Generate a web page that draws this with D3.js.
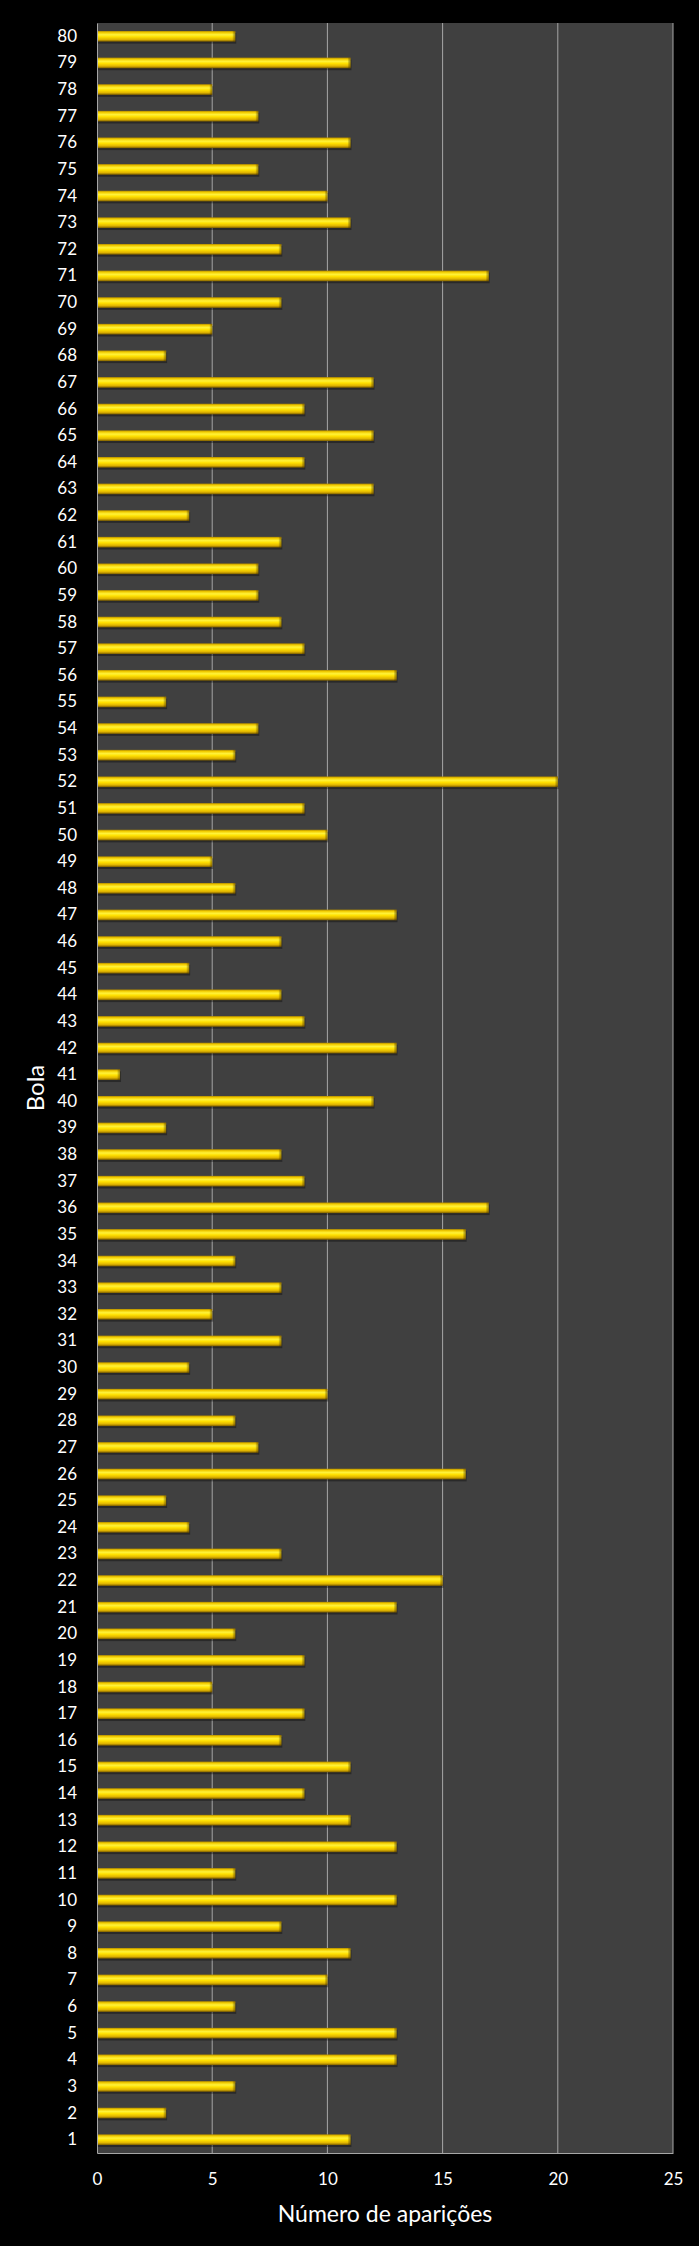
<!DOCTYPE html>
<html><head><meta charset="utf-8">
<script src="https://cdn.jsdelivr.net/npm/d3@7/dist/d3.min.js"></script>
<style>html,body{margin:0;padding:0;background:#000;}svg{display:block;}</style>
</head><body>
<script>
const bolas = d3.range(1, 81);
const aparicoes = [11,3,6,13,13,6,10,11,8,13,6,13,11,9,11,8,9,5,9,6,
  13,15,8,4,3,16,7,6,10,4,8,5,8,6,16,17,9,8,3,12,
  1,13,9,8,4,8,13,6,5,10,9,20,6,7,3,13,9,8,7,7,
  8,4,12,9,12,9,12,3,5,8,17,8,11,10,7,11,7,5,11,6];
const xTicks = [0,5,10,15,20,25];
const xTitle = "Número de aparições";
const yTitle = "Bola";

const W = 699, H = 2246;
const m = {left: 97, right: 26, top: 23, bottom: 93};
const svg = d3.select("body").append("svg").attr("width", W).attr("height", H);
svg.append("rect").attr("width", W).attr("height", H).attr("fill", "#000");

const x = d3.scaleLinear().domain([0,25]).range([m.left, W - m.right]);
const y = d3.scaleBand().domain(bolas.slice().reverse()).range([m.top, H - m.bottom]).paddingInner(0.6).paddingOuter(0.3);

const defs = svg.append("defs");
const g = defs.append("linearGradient").attr("id","bar").attr("x1",0).attr("y1",0).attr("x2",0).attr("y2",1);
[[0,"#b08a00"],[0.15,"#f2cc00"],[0.35,"#fff23a"],[0.55,"#ffe000"],[0.8,"#e0b400"],[1,"#7a5c00"]]
  .forEach(([o,c]) => g.append("stop").attr("offset",o).attr("stop-color",c));
const ge = defs.append("linearGradient").attr("id","end").attr("x1",0).attr("y1",0).attr("x2",1).attr("y2",0);
[[0,"rgba(0,0,0,0)"],[1,"rgba(90,60,0,0.55)"]].forEach(([o,c]) => ge.append("stop").attr("offset",o).attr("stop-color",c));

svg.append("rect").attr("x", x(0)).attr("y", m.top).attr("width", x(25)-x(0)).attr("height", H-m.bottom-m.top).attr("fill","#404040");

svg.append("g").selectAll("line").data(xTicks.slice(1)).join("line")
  .attr("x1", d=>x(d)).attr("x2", d=>x(d)).attr("y1", m.top).attr("y2", H-m.bottom)
  .attr("stroke", "#a6a6a6").attr("stroke-width", 1);

const data = bolas.map((b,i)=>({b, v: aparicoes[i]}));
const bars = svg.append("g");
// shadow
bars.selectAll("rect.sh").data(data).join("rect").attr("class","sh")
  .attr("x", x(0)).attr("y", d=>y(d.b)+2).attr("width", d=>x(d.v)-x(0)+1).attr("height", y.bandwidth())
  .attr("fill","rgba(0,0,0,0.35)");
bars.selectAll("rect.b").data(data).join("rect").attr("class","b")
  .attr("x", x(0)).attr("y", d=>y(d.b)).attr("width", d=>x(d.v)-x(0)).attr("height", y.bandwidth())
  .attr("fill","url(#bar)");
bars.selectAll("rect.e").data(data).join("rect").attr("class","e")
  .attr("x", d=>x(d.v)-3).attr("y", d=>y(d.b)).attr("width", 3).attr("height", y.bandwidth())
  .attr("fill","url(#end)");

// axes
const xAxis = svg.append("g").attr("transform", `translate(0,${H-m.bottom})`)
  .call(d3.axisBottom(x).tickValues(xTicks).tickSize(0).tickPadding(20));
xAxis.select(".domain").attr("stroke","#a6a6a6");
xAxis.selectAll("text").attr("fill","#fff").style("font-family","Lato, 'Open Sans', sans-serif").style("font-size","17px");

const yAxis = svg.append("g").attr("transform", `translate(${m.left},0)`)
  .call(d3.axisLeft(y).tickSize(0).tickPadding(20));
yAxis.select(".domain").attr("stroke","#a6a6a6");
yAxis.selectAll("text").attr("fill","#fff").style("font-family","Lato, 'Open Sans', sans-serif").style("font-size","17px");

svg.append("text").attr("x", (x(0)+x(25))/2).attr("y", 2222).attr("text-anchor","middle")
  .attr("fill","#fff").style("font-family","Lato, 'Open Sans', sans-serif").style("font-size","23px").text(xTitle);
svg.append("text").attr("transform", `translate(44,${(m.top + H - m.bottom)/2}) rotate(-90)`).attr("text-anchor","middle")
  .attr("fill","#fff").style("font-family","Lato, 'Open Sans', sans-serif").style("font-size","24px").text(yTitle);
</script>
</body></html>
